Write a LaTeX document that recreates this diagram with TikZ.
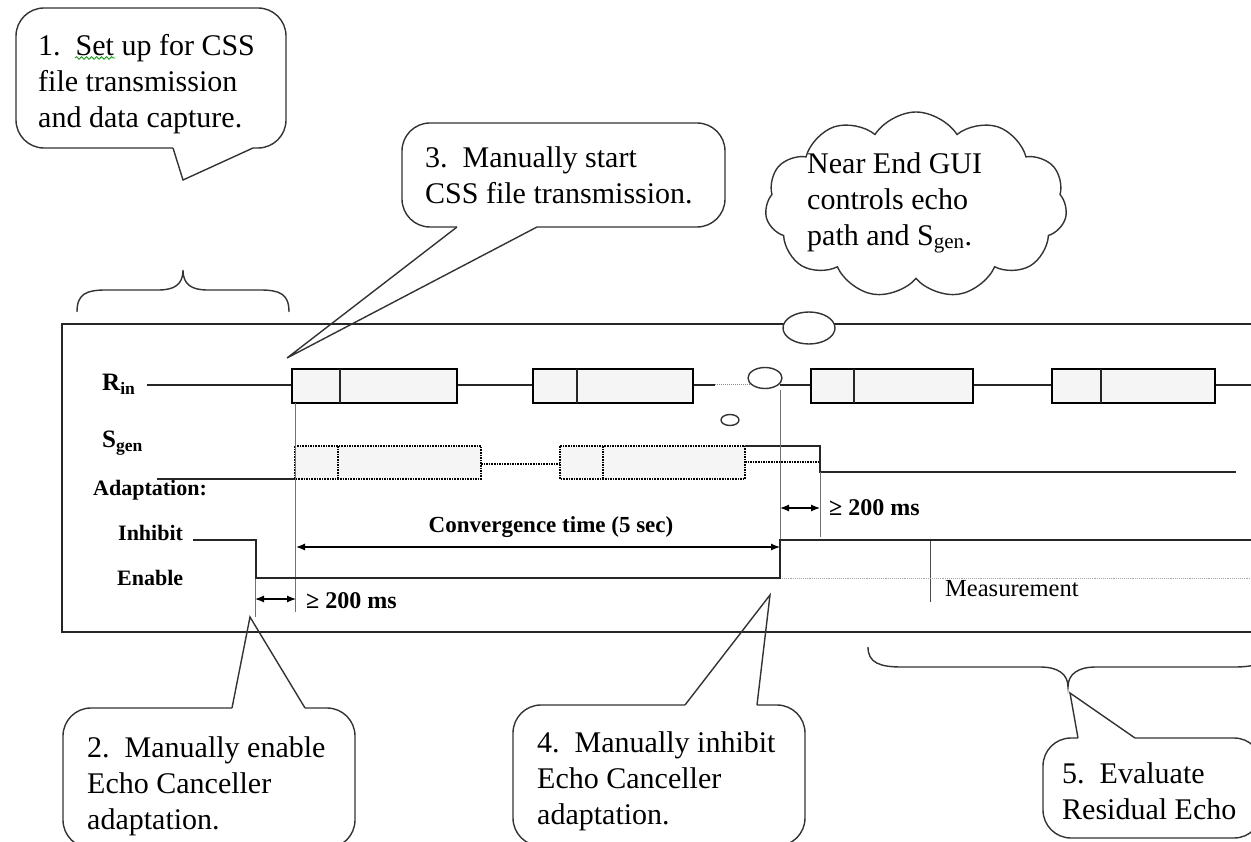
\documentclass[tikz,border=0pt]{standalone}
\usepackage{fontspec}
\setmainfont{Liberation Serif}
\usetikzlibrary{arrows.meta,shapes.symbols,decorations.pathmorphing}
\begin{document}
\begin{tikzpicture}[x=1pt,y=-1pt,
  sig/.style={line width=1.8pt,black!85},
  sigthin/.style={line width=1.4pt,black!85},
  guide/.style={line width=0.8pt,black!55},
  callbox/.style={draw=black!80,line width=1.4pt,rounded corners=28pt,fill=white,inner sep=0pt},
  calltext/.style={anchor=north west,align=left,inner sep=0pt,font=\fontsize{30}{36}\selectfont},
  lbl/.style={font=\bfseries\fontsize{22}{26}\selectfont,inner sep=0pt},
  siglbl/.style={font=\bfseries\fontsize{25}{28}\selectfont,inner sep=0pt},
  ptr/.style={draw=black!80,line width=1.4pt},
  dotbox/.style={densely dotted,line width=1.6pt,fill=black!4},
  sbox/.style={line width=1.8pt,fill=black!4},
  dimarrow/.style={{Latex[length=9pt,width=7pt]}-{Latex[length=9pt,width=7pt]},line width=1.2pt},
  bubble/.style={draw=black!80,line width=1.4pt,fill=white},
]
\useasboundingbox (0,0) rectangle (1251,842);
\clip (0,0) rectangle (1251,842);

% main frame
\draw[sig] (1270,324) -- (62,324) -- (62,632) -- (1270,632);

% thought bubbles
\draw[bubble] (809,328) ellipse [x radius=26, y radius=16];
\node[cloud, draw=black!80, line width=1.4pt, cloud puffs=11, cloud puff arc=115, aspect=1.6,
      minimum width=302pt, minimum height=186pt, inner sep=0pt] (cloud) at (916,205) {};
\node[calltext] (ctext) at (807,152) {Near End GUI\\controls echo\\path and S\textsubscript{gen}.};

% ---------- R_in ----------
\node[siglbl, anchor=west] (rin) at (102,384) {R\textsubscript{in}};
\draw[sigthin] (147,385) -- (292,385);
\draw[sigthin] (457,385) -- (533,385);
\draw[sigthin] (693,385) -- (715,385);
\draw[line width=1pt, black!45, densely dotted] (715,385) -- (750,385);
\draw[sigthin] (780,385) -- (811,385);
\draw[sigthin] (973,385) -- (1052,385);
\draw[sigthin] (1215,385) -- (1260,385);
\draw[sbox] (292,369) rectangle (457,403);  \draw[sig] (340,369) -- (340,403);
\draw[sbox] (533,369) rectangle (693,403);  \draw[sig] (577,369) -- (577,403);
\draw[sbox] (811,369) rectangle (973,403);  \draw[sig] (854,369) -- (854,403);
\draw[sbox] (1052,369) rectangle (1215,403); \draw[sig] (1101,369) -- (1101,403);
\draw[bubble] (765,378) ellipse [x radius=17, y radius=10.5];
\draw[bubble] (730,420) ellipse [x radius=9, y radius=5.5];

% ---------- S_gen ----------
\node[siglbl, anchor=west] (sgen) at (102,443) {S\textsubscript{gen}};
\draw[sigthin] (157,479) -- (295,479);
\draw[dotbox] (295,446) rectangle (481,479); \draw[densely dotted,line width=1.6pt] (338,446) -- (338,479);
\draw[densely dotted,line width=1.6pt] (481,464) -- (560,464);
\draw[dotbox] (560,446) rectangle (745,479); \draw[densely dotted,line width=1.6pt] (603,446) -- (603,479);
\draw[densely dotted,line width=1.6pt] (745,462) -- (820,462);
\draw[sig] (745,446) -- (820,446) -- (820,472) -- (1236,472);

% ---------- guides ----------
\draw[guide] (295,403) -- (295,612);
\draw[guide] (780,390) -- (780,578);
\draw[guide] (820,472) -- (820,537);
\draw[guide] (255,579) -- (255,617);
\draw[guide, black!70] (930,540) -- (930,602);
\draw[line width=0.9pt, black!35, densely dotted] (780,578) -- (1255,578);

% ---------- adaptation ----------
\node[lbl, anchor=west] (adapt) at (93,490) {Adaptation:};
\node[lbl, anchor=west] (inhibit) at (118,533) {Inhibit};
\node[lbl, anchor=west] (enable) at (117,578) {Enable};
\draw[sig] (193,540) -- (256,540) -- (256,578) -- (780,578) -- (780,540) -- (1260,540);

% dimensions
\draw[dimarrow] (296,547) -- (780,547);
\node[lbl, font=\bfseries\fontsize{23}{26}\selectfont] (conv) at (551,527) {Convergence time (5 sec)};
\draw[dimarrow] (780,508) -- (820,508);
\node[lbl, font=\bfseries\fontsize{24}{26}\selectfont, anchor=west] (d1) at (829,508) {≥ 200 ms};
\draw[dimarrow] (255,599) -- (296,599);
\node[lbl, font=\bfseries\fontsize{24}{26}\selectfont, anchor=west] (d2) at (306,601) {≥ 200 ms};
\node[font=\fontsize{24.5}{26}\selectfont, inner sep=0pt, anchor=west] (meas) at (945,589) {Measurement};

% ---------- braces ----------
\draw[line width=1.4pt, black!80] (77,312) .. controls (77,294) and (86,290) .. (106,290) -- (158,290)
   .. controls (174,290) and (183,285) .. (183,270) .. controls (183,285) and (192,290) .. (208,290)
   -- (260,290) .. controls (280,290) and (289,294) .. (289,312);
\draw[line width=1.4pt, black!80] (868,647) .. controls (868,663) and (880,667) .. (902,667) -- (1040,667)
   .. controls (1058,667) and (1068,674) .. (1068,687) .. controls (1068,674) and (1078,667) .. (1096,667)
   -- (1234,667) .. controls (1256,667) and (1268,663) .. (1268,647);

% ---------- callout 1 ----------
\node[callbox, minimum width=270pt, minimum height=140pt] (c1) at (151,78) {};
\draw[white, line width=3pt] (173,148) -- (253,148);
\draw[ptr] (173,148) -- (183,180) -- (253,148);
\node[calltext] (t1) at (38,34) {1.\ \ Set up for CSS\\file transmission\\and data capture.};
\draw[green!60!black, line width=0.8pt, decorate, decoration={snake, amplitude=1.3pt, segment length=5pt}] (75,58) -- (115,58);

% ---------- callout 3 ----------
\node[callbox, minimum width=323pt, minimum height=104pt] (c3) at (563.5,175) {};
\draw[white, line width=3pt] (457,227) -- (537,227);
\draw[ptr] (457,227) -- (287,358) -- (537,227);
\node[calltext] (t3) at (425,146) {3.\ \ Manually start\\CSS file transmission.};

% ---------- callout 2 ----------
\node[callbox, minimum width=292pt, minimum height=140pt] (c2) at (209,778) {};
\draw[white, line width=3pt] (232,708) -- (305,708);
\draw[ptr] (232,708) -- (250,617) -- (305,708);
\node[calltext] (t2) at (87,736) {2.\ \ Manually enable\\Echo Canceller\\adaptation.};

% ---------- callout 4 ----------
\node[callbox, minimum width=292pt, minimum height=141pt] (c4) at (659,775.5) {};
\draw[white, line width=3pt] (685,705) -- (757,705);
\draw[ptr] (685,705) -- (770,595) -- (757,705);
\node[calltext] (t4) at (537,731) {4.\ \ Manually inhibit\\Echo Canceller\\adaptation.};

% ---------- callout 5 ----------
\node[callbox, minimum width=219pt, minimum height=100pt] (c5) at (1152.5,788) {};
\draw[white, line width=3pt] (1078,738) -- (1135,738);
\draw[ptr] (1078,738) -- (1070,693) -- (1135,738);
\node[calltext] (t5) at (1062,762) {5.\ \ Evaluate\\Residual Echo};

\end{tikzpicture}
\end{document}
